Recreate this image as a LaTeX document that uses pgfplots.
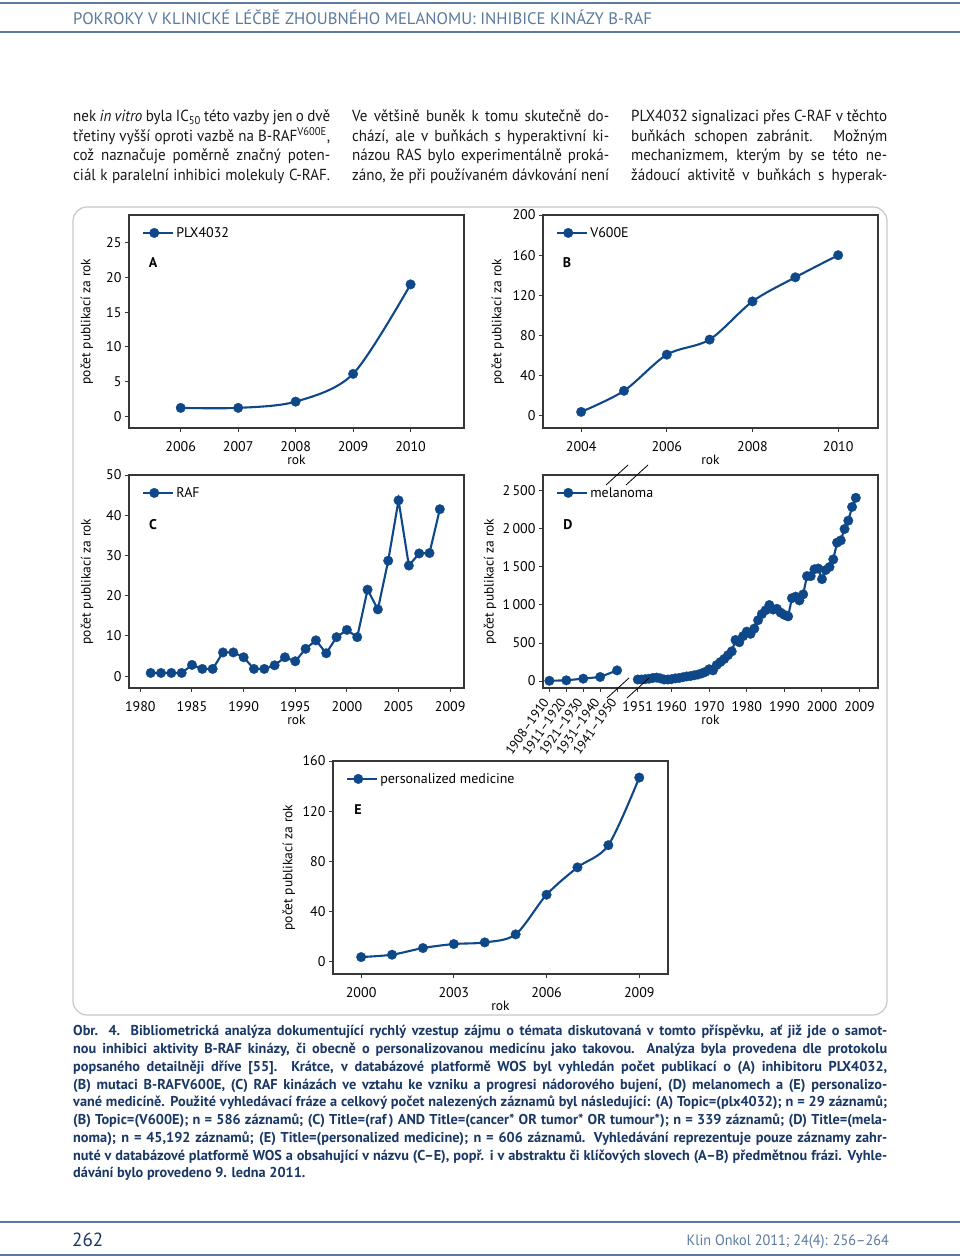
\documentclass[border=0pt]{standalone}
\usepackage{pgfplots}
\pgfplotsset{compat=1.18}
\usepackage{fontspec}
\setmainfont{PT Sans}
\newfontfamily\headf[FakeStretch=1.0]{PT Sans}
\newfontfamily\bodyf[FakeStretch=0.94]{PT Sans}
\newfontfamily\capf[FakeStretch=1.0]{PT Sans}
\newfontfamily\footf[FakeStretch=0.95]{PT Sans}

\definecolor{plotblue}{RGB}{14,72,136}
\definecolor{headblue}{RGB}{90,122,158}
\definecolor{capblue}{RGB}{26,56,102}
\definecolor{framegray}{RGB}{200,200,200}
\definecolor{axisgray}{RGB}{55,55,55}

\pgfplotsset{
  panel/.style={
    scale only axis, width=335pt, height=213pt,
    axis line style={draw=axisgray, line width=1.1pt},
    tick align=outside, xtick pos=bottom, ytick pos=left,
    major tick length=4pt,
    tick style={axisgray, line width=1pt},
    tick label style={font=\fontsize{14}{14}\selectfont},
    xticklabel style={yshift=-6pt},
    label style={font=\fontsize{13.5}{13.5}\selectfont},
    /pgf/number format/assume math mode=true,
    x tick label style={/pgf/number format/1000 sep={}},
    y tick label style={/pgf/number format/1000 sep={\,}},
    xlabel={rok}, ylabel={počet publikací za rok},
    xlabel style={at={(axis description cs:0.5,-0.15)}, anchor=center},
    legend style={at={(axis description cs:0,1)}, anchor=north west,
      xshift=10pt, yshift=-8pt, draw=none, fill=none,
      font=\fontsize{14}{14}\selectfont},
    legend image code/.code={\draw[mark repeat=2, mark phase=2]
      plot coordinates {(0pt,0pt) (11pt,0pt) (22pt,0pt)};
      \path (22pt,0pt) -- (30pt,0pt);},
  },
  ser/.style={plotblue, line width=2.1pt, mark=*, mark size=4.8pt,
    mark options={solid, fill=plotblue, draw=plotblue, line width=0.3pt}},
}

\begin{document}
\begin{tikzpicture}
\path[use as bounding box, fill=white] (0pt,0pt) rectangle (960pt,-1257pt);

% header
\draw[headblue, line width=1.3pt] (0pt,-3pt) -- (960pt,-3pt);
\draw[headblue, line width=1.3pt] (0pt,-32pt) -- (960pt,-32pt);
\node[anchor=base west, inner sep=0pt, text=headblue, font=\headf\fontsize{16.7}{16.7}\selectfont]
  at (73pt,-25pt) {POKROKY V KLINICKÉ LÉČBĚ ZHOUBNÉHO MELANOMU: INHIBICE KINÁZY B-RAF};

% body text
\begin{scope}[every node/.style={anchor=base west, inner sep=0pt, text=black!90, font=\bodyf\fontsize{16}{16}\selectfont}]
\node at (73pt,-122pt)   {\makebox[257pt][s]{nek \textit{in vitro} byla IC\textsubscript{50} této vazby jen o dvě}};
\node at (73pt,-141.5pt) {\makebox[257pt][s]{třetiny vyšší oproti vazbě na B-RAF\textsuperscript{V600E},}};
\node at (73pt,-161pt)   {\makebox[257pt][s]{což naznačuje poměrně značný poten-}};
\node at (73pt,-180.5pt) {\makebox[257pt][s]{ciál k paralelní inhibici molekuly C-RAF.}};
\node at (352pt,-122pt)   {\makebox[257pt][s]{Ve většině buněk k tomu skutečně do-}};
\node at (352pt,-141.5pt) {\makebox[257pt][s]{chází, ale v buňkách s hyperaktivní ki-}};
\node at (352pt,-161pt)   {\makebox[257pt][s]{názou RAS bylo experimentálně proká-}};
\node at (352pt,-180.5pt) {\makebox[257pt][s]{záno, že při používaném dávkování není}};
\node at (631pt,-122pt)   {\makebox[256pt][s]{PLX4032 signalizaci přes C-RAF v těchto}};
\node at (631pt,-141.5pt) {\makebox[256pt][s]{buňkách schopen zabránit. Možným}};
\node at (631pt,-161pt)   {\makebox[256pt][s]{mechanizmem, kterým by se této ne-}};
\node at (631pt,-180.5pt) {\makebox[256pt][s]{žádoucí aktivitě v buňkách s hyperak-}};
\end{scope}

% figure frame
\draw[framegray, line width=1.2pt, rounded corners=14pt] (73pt,-207pt) rectangle (887pt,-1015pt);

% A
\begin{axis}[panel, at={(129pt,-428pt)}, anchor=south west,
  xmin=2005.1, xmax=2010.93, ymin=-1.7, ymax=29,
  xtick={2006,2007,2008,2009,2010}, ytick={0,5,...,25},
  ylabel style={at={(axis description cs:-0.126,0.5)}, anchor=center}]
\addplot[ser, smooth] coordinates {
  (2006,1.2) (2007,1.2) (2008,2.1) (2009,6.1) (2010,19)
};
\addlegendentry{PLX4032}
\end{axis}
\node[font=\bfseries\fontsize{14}{14}\selectfont] at (153pt,-263pt) {A};

% B
\begin{axis}[panel, at={(543pt,-428pt)}, anchor=south west,
  xmin=2003.11, xmax=2010.93, ymin=-12, ymax=200,
  xtick={2004,2006,2008,2010}, ytick={0,40,...,200},
  ylabel style={at={(axis description cs:-0.135,0.5)}, anchor=center}]
\addplot[ser, smooth] coordinates {
  (2004,4) (2005,25) (2006,61) (2007,76) (2008,114) (2009,138) (2010,160)
};
\addlegendentry{V600E}
\end{axis}
\node[font=\bfseries\fontsize{14}{14}\selectfont] at (567pt,-263pt) {B};

% C
\begin{axis}[panel, at={(129pt,-688pt)}, anchor=south west,
  xmin=1978.9, xmax=2011.34, ymin=-2.94, ymax=50,
  xtick={1980,1985,1990,1995,2000,2005,2010},
  xticklabels={1980,1985,1990,1995,2000,2005,2009},
  ytick={0,10,...,50},
  ylabel style={at={(axis description cs:-0.125,0.5)}, anchor=center}]
\addplot[ser] coordinates {
  (1981,0.8) (1982,0.8) (1983,0.8) (1984,0.8) (1985,2.8) (1986,1.8)
  (1987,1.8) (1988,5.9) (1989,5.9) (1990,4.7) (1991,1.8) (1992,1.8)
  (1993,2.7) (1994,4.7) (1995,3.7) (1996,6.8) (1997,8.9) (1998,5.7)
  (1999,9.7) (2000,11.5) (2001,9.7) (2002,21.5) (2003,16.6) (2004,28.7)
  (2005,43.7) (2006,27.5) (2007,30.5) (2008,30.6) (2009,41.5)
};
\addlegendentry{RAF}
\end{axis}
\node[font=\bfseries\fontsize{14}{14}\selectfont] at (153pt,-525pt) {C};

% D
\begin{axis}[panel, at={(543pt,-688pt)}, anchor=south west,
  xmin=1925.8, xmax=2014.9, ymin=-92, ymax=2710,
  xtick={1951,1960,1970,1980,1990,2000,2010},
  xticklabels={1951,1960,1970,1980,1990,2000,2009},
  extra x ticks={1927.5,1932,1936.5,1941,1945.5},
  extra x tick labels={1908–1910,1911–1920,1921–1930,1931–1940,1941–1950},
  extra x tick style={xticklabel style={rotate=55, anchor=east, yshift=2pt,
    font=\fontsize{13}{13}\selectfont}},
  ytick={0,500,...,2500},
  ylabel style={at={(axis description cs:-0.158,0.5)}, anchor=center}]
\addplot[ser] coordinates {
  (1927.5,3) (1932,9) (1936.5,31) (1941,53) (1945.5,140)
};
\addlegendentry{melanoma}
\addplot[ser, forget plot] coordinates {
  (1951,20) (1952,20) (1953,25) (1954,30) (1955,40) (1956,45) (1957,35)
  (1958,20) (1959,20) (1960,25) (1961,35) (1962,40) (1963,50) (1964,60)
  (1965,65) (1966,75) (1967,85) (1968,100) (1969,120) (1970,155)
  (1971,140) (1972,210) (1973,250) (1974,290) (1975,340) (1976,390)
  (1977,540) (1978,510) (1979,590) (1980,650) (1981,620) (1982,690)
  (1983,800) (1984,880) (1985,930) (1986,1000) (1987,940) (1988,950)
  (1989,900) (1990,870) (1991,850) (1992,1090) (1993,1110) (1994,1060)
  (1995,1140) (1996,1380) (1997,1380) (1998,1470) (1999,1480) (2000,1340)
  (2001,1460) (2002,1500) (2003,1600) (2004,1820) (2005,1850) (2006,2000)
  (2007,2110) (2008,2290) (2009,2410)
};
\end{axis}
\node[font=\bfseries\fontsize{14}{14}\selectfont] at (568pt,-525pt) {D};
% axis break marks
\draw[black, line width=0.8pt] (606pt,-485pt) -- (628pt,-465pt);
\draw[black, line width=0.8pt] (626pt,-485pt) -- (648pt,-465pt);
\draw[black, line width=0.8pt] (607pt,-698pt) -- (629pt,-678pt);
\draw[black, line width=0.8pt] (627pt,-698pt) -- (649pt,-678pt);

% E
\begin{axis}[panel, at={(333pt,-974pt)}, anchor=south west,
  xmin=1999.09, xmax=2009.93, ymin=-9.8, ymax=160,
  xtick={2000,2003,2006,2009}, ytick={0,40,...,160},
  ylabel style={at={(axis description cs:-0.132,0.5)}, anchor=center}]
\addplot[ser, smooth] coordinates {
  (2000,3.7) (2001,5.6) (2002,10.9) (2003,14.1) (2004,15.4)
  (2005,21.8) (2006,53.4) (2007,75.2) (2008,92.9) (2009,146.8)
};
\addlegendentry{personalized medicine}
\end{axis}
\node[font=\bfseries\fontsize{14}{14}\selectfont] at (358pt,-810pt) {E};

% caption
\begin{scope}[every node/.style={anchor=base west, inner sep=0pt, text=capblue, font=\capf\bfseries\fontsize{14.3}{14.3}\selectfont}]
\node at (73pt,-1035pt) {\makebox[814pt][s]{Obr. 4. Bibliometrická analýza dokumentující rychlý vzestup zájmu o témata diskutovaná v tomto příspěvku, ať již jde o samot-}};
\node at (73pt,-1053pt) {\makebox[814pt][s]{nou inhibici aktivity B-RAF kinázy, či obecně o personalizovanou medicínu jako takovou. Analýza byla provedena dle protokolu}};
\node at (73pt,-1071pt) {\makebox[814pt][s]{popsaného detailněji dříve [55]. Krátce, v databázové platformě WOS byl vyhledán počet publikací o (A) inhibitoru PLX4032,}};
\node at (73pt,-1089pt) {\makebox[814pt][s]{(B) mutaci B-RAFV600E, (C) RAF kinázách ve vztahu ke vzniku a progresi nádorového bujení, (D) melanomech a (E) personalizo-}};
\node at (73pt,-1106pt) {\makebox[814pt][s]{vané medicíně. Použité vyhledávací fráze a celkový počet nalezených záznamů byl následující: (A) Topic=(plx4032); n = 29 záznamů;}};
\node at (73pt,-1124pt) {\makebox[814pt][s]{(B) Topic=(V600E); n = 586 záznamů; (C) Title=(raf\,) AND Title=(cancer* OR tumor* OR tumour*); n = 339 záznamů; (D) Title=(mela-}};
\node at (73pt,-1142pt) {\makebox[814pt][s]{noma); n = 45,192 záznamů; (E) Title=(personalized medicine); n = 606 záznamů. Vyhledávání reprezentuje pouze záznamy zahr-}};
\node at (73pt,-1160pt) {\makebox[814pt][s]{nuté v databázové platformě WOS a obsahující v názvu (C–E), popř. i v abstraktu či klíčových slovech (A–B) předmětnou frázi. Vyhle-}};
\node at (73pt,-1177pt) {dávání bylo provedeno 9. ledna 2011.};
\end{scope}

% footer
\draw[headblue, line width=1.3pt] (0pt,-1222pt) -- (960pt,-1222pt);
\draw[headblue, line width=1.3pt] (0pt,-1255pt) -- (960pt,-1255pt);
\node[anchor=base west, inner sep=0pt, text=capblue, font=\fontsize{19}{19}\selectfont] at (72pt,-1246pt) {262};
\node[anchor=base east, inner sep=0pt, text=headblue, font=\footf\fontsize{15}{15}\selectfont] at (889pt,-1245pt) {Klin Onkol 2011; 24(4): 256–264};
\end{tikzpicture}
\end{document}
